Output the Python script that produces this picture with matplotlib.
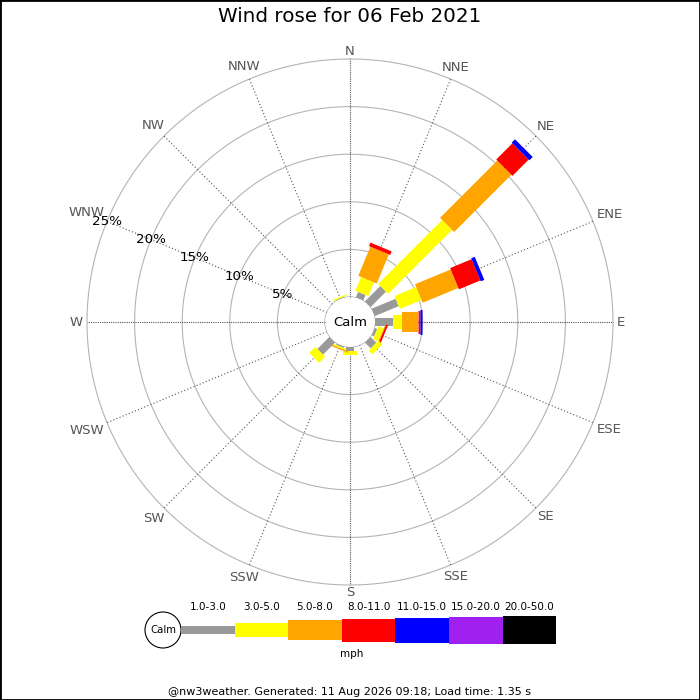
import numpy as np
import matplotlib.pyplot as plt
from matplotlib.patches import Circle, Rectangle

# wind directions and frequency (%) per speed class
directions = ['N', 'NNE', 'NE', 'ENE', 'E', 'ESE', 'SE', 'SSE',
              'S', 'SSW', 'SW', 'WSW', 'W', 'WNW', 'NW', 'NNW']
speed_bins = ['1.0-3.0', '3.0-5.0', '5.0-8.0', '8.0-11.0',
              '11.0-15.0', '15.0-20.0', '20.0-50.0']
spd_1_3 = [0, 0.62, 2.3, 2.73, 1.86, 0.3, 0.87, 0, 0.42, 0.15, 1.8, 0, 0, 0, 0, 0.05]
spd_3_5 = [0, 1.57, 9.5, 2.47, 0.95, 0.6, 0.57, 0, 0.42, 0.15, 0.9, 0, 0, 0, 0, 0.15]
spd_5_8 = [0, 3.31, 8.5, 4.06, 1.66, 0.1, 0, 0, 0, 0.15, 0, 0, 0, 0, 0, 0]
spd_8_11 = [0, 0.4, 2.4, 2.44, 0.28, 0.2, 0, 0, 0, 0, 0, 0, 0, 0, 0, 0]
spd_11_15 = [0, 0, 0.5, 0.4, 0.17, 0, 0, 0, 0, 0, 0, 0, 0, 0, 0, 0]
spd_15_20 = [0] * 16
spd_20_50 = [0] * 16
ring_pct = [5, 10, 15, 20, 25]

title = 'Wind rose for 06 Feb 2021'
footer = '@nw3weather. Generated: 11 Aug 2026 09:18; Load time: 1.35 s'

series = [spd_1_3, spd_3_5, spd_5_8, spd_8_11, spd_11_15, spd_15_20, spd_20_50]
colors = ['#999999', '#ffff00', '#ffa500', '#ff0000', '#0000ff', '#a020f0', '#000000']
bar_px = [8, 14, 20, 23, 25, 27, 28]       # bar thickness in pixels
bar_lw = [p * 0.72 for p in bar_px]

fig = plt.figure(figsize=(7, 7), dpi=100)
R_PX = 263                 # outer ring radius in pixels
CALM_PX = 25               # calm circle radius in pixels
R = R_PX / 700
ax = fig.add_axes([0.5 - R, 0.54 - R, 2 * R, 2 * R], projection='polar')
ax.set_theta_zero_location('N')
ax.set_theta_direction(-1)
rmax = 25
px_per_pct = (R_PX - CALM_PX) / rmax
ax.set_ylim(0, rmax)
ax.set_rorigin(-CALM_PX / px_per_pct)
ax.set_axis_off()


def px_to_r(p):
    return p / px_per_pct - CALM_PX / px_per_pct


theta = np.deg2rad(np.arange(16) * 22.5)
full = np.linspace(0, 2 * np.pi, 400)

# rings
for r in ring_pct:
    ax.plot(full, np.full_like(full, r), color='#b4b4b4', lw=0.8, clip_on=False, zorder=1)

# direction lines + labels
renderer = fig.canvas.get_renderer()
for i, (th, name) in enumerate(zip(theta, directions)):
    ls = (0, (1, 1)) if i % 4 == 0 else (0, (1, 2))
    ax.plot([th, th], [0, rmax], color='#555555', lw=0.8, ls=ls, clip_on=False, zorder=1)
    t = ax.text(th, rmax, name, ha='center', va='center', fontsize=9.5,
                color='#555555', clip_on=False)
    bb = t.get_window_extent(renderer)
    d = abs(np.sin(th)) * (bb.width / 2 + 1) + abs(np.cos(th)) * 4.5
    t.set_position((th, px_to_r(R_PX + 3 + d)))

# radial labels along WNW
for r in ring_pct:
    ax.text(np.deg2rad(292.5), r, f'{r}%', ha='center', va='center', fontsize=9.7,
            color='black', zorder=6)

# stacked bars
for i, th in enumerate(theta):
    base = 0
    for k, vals in enumerate(series):
        v = vals[i]
        if v <= 0:
            continue
        ax.plot([th, th], [base, base + v], color=colors[k], lw=bar_lw[k],
                solid_capstyle='butt', zorder=3)
        base += v

ax.add_patch(Circle((0.5, 0.5), CALM_PX / (2 * R_PX), transform=ax.transAxes, fc='white',
                    ec='#999999', lw=0.8, zorder=5))
ax.text(0.5, 0.5, 'Calm', transform=ax.transAxes, ha='center', va='center', fontsize=9.5, zorder=6)

fig.text(0.5, 1 - 17 / 700, title, ha='center', va='center', fontsize=14.3)

# legend (pixel coordinates)
lax = fig.add_axes([0, 0, 1, 1])
lax.set_xlim(0, 700)
lax.set_ylim(700, 0)
lax.set_axis_off()
lax.patch.set_visible(False)
lax.add_patch(Circle((163, 630), 18, fc='white', ec='black', lw=0.8))
lax.text(163, 630, 'Calm', ha='center', va='center', fontsize=7.3)
x0, seg = 181, 53.6
for k, (lab, col) in enumerate(zip(speed_bins, colors)):
    h = bar_px[k]
    lax.add_patch(Rectangle((x0 + k * seg, 630 - h / 2), seg, h, fc=col, ec='none'))
    lax.text(x0 + (k + 0.5) * seg, 607, lab, ha='center', va='center', fontsize=7.5)
lax.text(352, 654, 'mph', ha='center', va='center', fontsize=7.5)
lax.text(350, 692, footer, ha='center', va='center', fontsize=8)

fig.add_artist(Rectangle((0, 0), 1, 1, transform=fig.transFigure, fill=False,
                         ec='black', lw=2))

fig.savefig('out.png', dpi=100)
